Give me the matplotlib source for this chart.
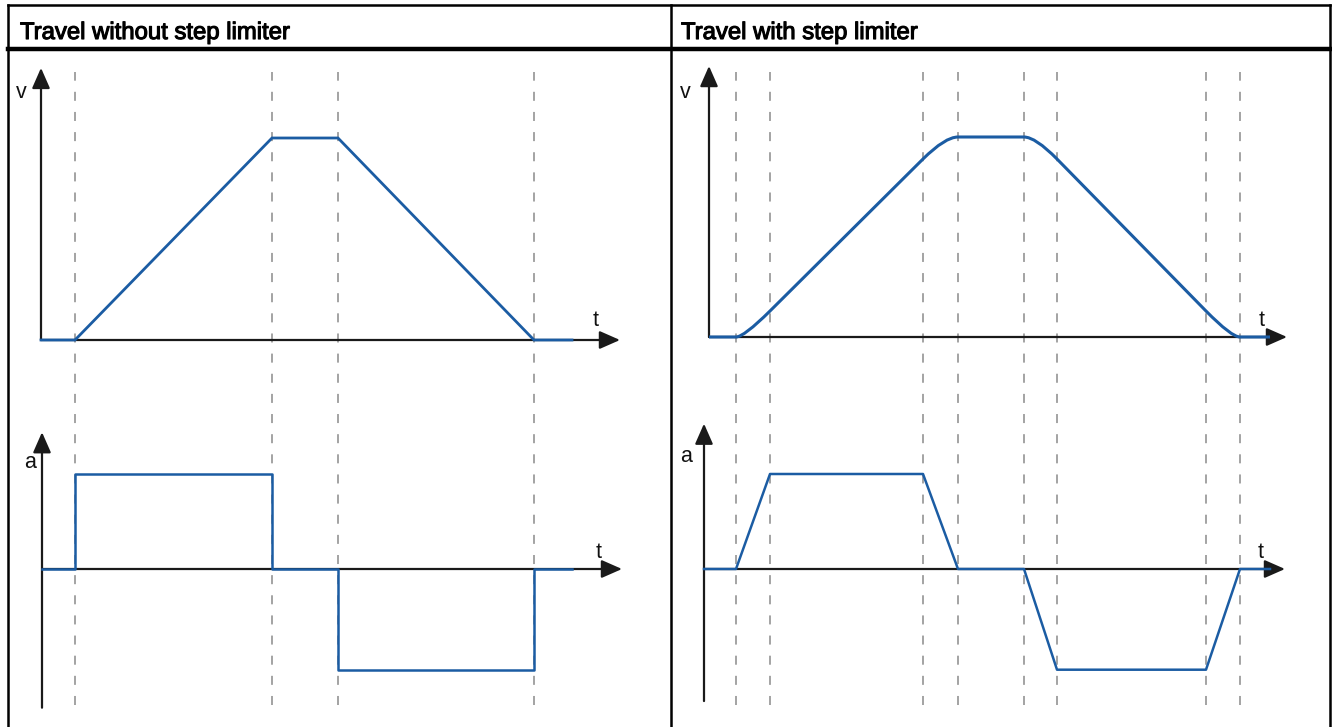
import matplotlib
matplotlib.use("Agg")
import matplotlib.pyplot as plt
import matplotlib.patheffects as pe
from matplotlib.lines import Line2D
from matplotlib.path import Path
from matplotlib.patches import PathPatch

# ── Data (time in drawing units from the v-axis, values normalised) ───────────
# Travel without step limiter
t_left = [0, 34, 231, 297, 493, 531]
v_left = [0, 0, 1, 1, 0, 0]
a_left = [0, 1, 0, -1.06, 0, 0]          # step values, held from each time on
marks_left = [34, 231, 297, 493]

# Travel with step limiter
t_right = [0, 28, 62, 215, 250, 316, 349, 498, 532, 562]
v_right = [0, 0, 0.13, 0.89, 1, 1, 0.89, 0.13, 0, 0]
a_right = [0, 0, 1, 1, 0, 0, -1.06, -1.06, 0, 0]
marks_right = [28, 62, 215, 250, 316, 349, 498, 532]

titles = ["Travel without step limiter", "Travel with step limiter"]

# ── Layout / style ────────────────────────────────────────────────────────────
W, H = 1332, 727
BLUE = "#1b5ca3"
AXC = "#1a1a1a"
GREY = "#9c9c9c"
plt.rcParams["font.family"] = ["Liberation Sans", "DejaVu Sans"]
plt.rcParams["lines.scale_dashes"] = False

fig = plt.figure(figsize=(W / 100, H / 100), dpi=100)


def add_axes_px(ox, oy, sx, sy, xlim, ylim):
    # place an axes so that data (0, 0) sits at pixel (ox, oy)
    left = ox + xlim[0] * sx
    right = ox + xlim[1] * sx
    top = oy - ylim[1] * sy
    bottom = oy - ylim[0] * sy
    ax = fig.add_axes([left / W, 1 - bottom / H, (right - left) / W, (bottom - top) / H])
    ax.set_xlim(*xlim)
    ax.set_ylim(*ylim)
    ax.axis("off")
    return ax


def draw_axis(ax, x0, tip_x, tip_y, lo_y=0):
    style = "-|>,head_length=1.25,head_width=0.55"
    kw = dict(arrowstyle=style, lw=1.6, color=AXC, shrinkA=0, shrinkB=0, mutation_scale=10)
    ax.annotate("", xy=(tip_x, 0), xytext=(x0, 0), arrowprops=kw, annotation_clip=False)
    ax.annotate("", xy=(x0, tip_y), xytext=(x0, lo_y), arrowprops=kw, annotation_clip=False)


def label(px, py, s):
    fig.text(px / W, 1 - py / H, s, fontsize=15.5, ha="center", va="center", color="#111111")


def smooth_path(t, v):
    # flat -> parabolic jerk phase -> linear; quadratic Bezier with control at the
    # point where the flat level meets the extended linear segment
    verts = [(1, v[0]), (t[1], v[1])]
    codes = [Path.MOVETO, Path.LINETO]
    for i in range(1, len(t) - 2, 2):
        if v[i] == v[i - 1]:       # leaving a flat part, linear part follows
            s = (v[i + 2] - v[i + 1]) / (t[i + 2] - t[i + 1])
            ctrl = (t[i + 1] - (v[i + 1] - v[i]) / s, v[i])
        else:                       # leaving a linear part, flat part follows
            s = (v[i] - v[i - 1]) / (t[i] - t[i - 1])
            ctrl = (t[i] + (v[i + 1] - v[i]) / s, v[i + 1])
        verts += [ctrl, (t[i + 1], v[i + 1]), (t[i + 2], v[i + 2])]
        codes += [Path.CURVE3, Path.CURVE3, Path.LINETO]
    return Path(verts, codes)


# ── Table frame ───────────────────────────────────────────────────────────────
for xs, ys, lw in [
    ((8, 1330), (5, 5), 1.8),
    ((8, 1330), (48.5, 48.5), 3.2),
    ((8, 8), (5, 727), 1.8),
    ((670.5, 670.5), (5, 727), 1.8),
    ((1329.5, 1329.5), (5, 727), 1.8),
]:
    fig.add_artist(Line2D([x / W for x in xs], [1 - y / H for y in ys], lw=lw, color="black"))

head_fx = [pe.withStroke(linewidth=0.8, foreground="black")]
fig.text(20 / W, 1 - 33 / H, titles[0], fontsize=17.2, va="center", ha="left", path_effects=head_fx)
fig.text(681 / W, 1 - 33 / H, titles[1], fontsize=17.2, va="center", ha="left", path_effects=head_fx)

# ── Left panel ────────────────────────────────────────────────────────────────
ox = 41
grid = add_axes_px(ox, 705, 1, 633, (-5, 590), (0, 1))
grid.vlines(marks_left, 0, 1, colors=GREY, lw=1.3, linestyles=(0, (6.5, 8)))

ax_v = add_axes_px(ox, 340, 1, 202, (-5, 590), (-0.05, 1.36))
draw_axis(ax_v, 0, 579, 1.347)
ax_v.plot(t_left, v_left, color=BLUE, lw=2, zorder=5, solid_joinstyle="miter")

ax_a = add_axes_px(ox, 569, 1, 95, (-5, 590), (-1.5, 1.45))
draw_axis(ax_a, 1, 581, 1.44, lo_y=-1.46)
ax_a.step([1] + t_left[1:], a_left, where="post", color=BLUE, lw=1.8, zorder=5)

label(21, 93, "v")
label(596, 321, "t")
label(30, 462, "a")
label(599, 552, "t")

# ── Right panel ───────────────────────────────────────────────────────────────
ox = 708
grid = add_axes_px(ox, 705, 1, 633, (-8, 590), (0, 1))
grid.vlines(marks_right, 0, 1, colors=GREY, lw=1.3, linestyles=(0, (6.5, 8)))

ax_v = add_axes_px(ox, 337, 1, 200, (-8, 590), (-0.05, 1.36))
draw_axis(ax_v, 1, 579, 1.355)
ax_v.add_patch(PathPatch(smooth_path(t_right, v_right), fill=False, edgecolor=BLUE, lw=2.2,
                         zorder=5))

ax_a = add_axes_px(ox, 569, 1, 95, (-8, 590), (-1.45, 1.55))
draw_axis(ax_a, -4, 577, 1.53, lo_y=-1.39)
ax_a.plot([-4] + t_right[1:], a_right, color=BLUE, lw=1.8, zorder=5)

label(685, 93, "v")
label(1262, 321, "t")
label(686, 456, "a")
label(1261, 552, "t")

fig.savefig("out.png", dpi=100)
